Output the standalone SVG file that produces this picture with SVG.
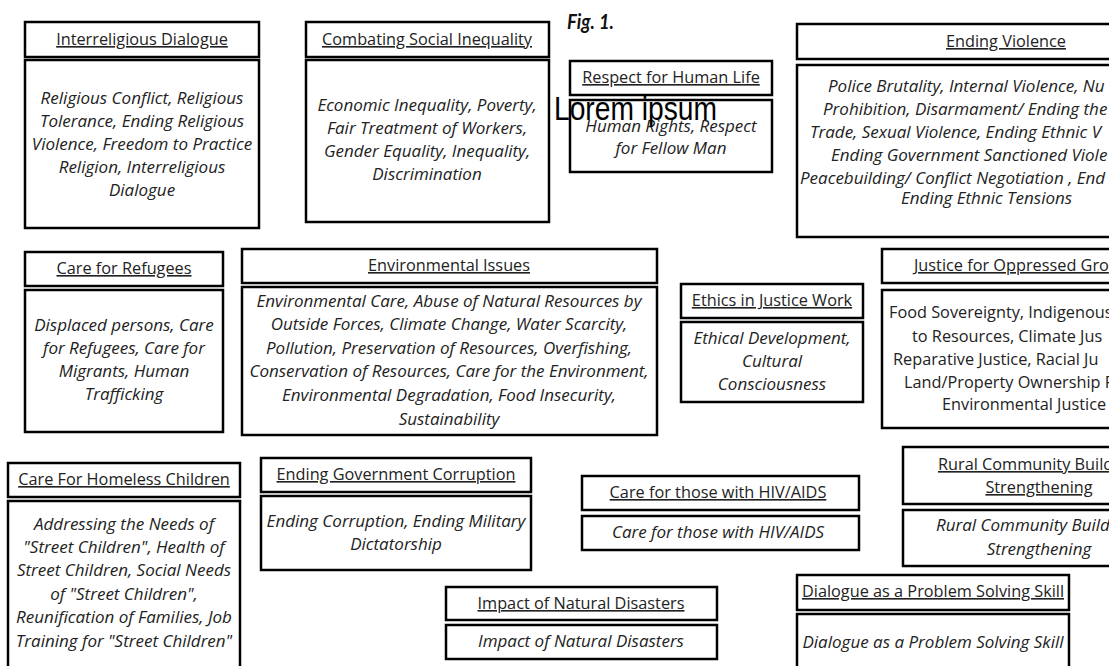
<svg xmlns="http://www.w3.org/2000/svg" width="1109" height="666" viewBox="0 0 1109 666">
<style>
rect.b{fill:#fff;stroke:#000;stroke-width:2.5}
text{font-family:"Open Sans","Noto Sans",sans-serif;fill:#222}
.t{font-size:16.3px;text-decoration:underline;text-anchor:middle}
.ts{font-size:16.3px;text-decoration:underline}
.i{font-size:17px;font-style:italic;text-anchor:middle}
.is{font-size:17px;font-style:italic}
.r{font-size:16.3px}
</style>
<rect width="1109" height="666" fill="#fff"/>
<g id="connectors"></g>

<g id="interreligious">
<rect class="b" x="25" y="22" width="234" height="35"/>
<text class="t" x="142" y="45">Interreligious Dialogue </text>
<rect class="b" x="25" y="60" width="234" height="168"/>
<text class="i" x="142" y="104">Religious Conflict, Religious</text>
<text class="i" x="142" y="127">Tolerance, Ending Religious</text>
<text class="i" x="142" y="150">Violence, Freedom to Practice</text>
<text class="i" x="142" y="173">Religion, Interreligious</text>
<text class="i" x="142" y="196">Dialogue</text>
</g>

<g id="combating">
<rect class="b" x="306" y="22" width="243" height="35"/>
<text class="t" x="427" y="45">Combating Social Inequality</text>
<rect class="b" x="306" y="60" width="243" height="162"/>
<text class="i" x="427" y="111">Economic Inequality, Poverty,</text>
<text class="i" x="427" y="134">Fair Treatment of Workers,</text>
<text class="i" x="427" y="157">Gender Equality, Inequality,</text>
<text class="i" x="427" y="180">Discrimination</text>
</g>

<g id="figlabel">
<text x="567" y="29" style="font-family:Lato,'Open Sans',sans-serif;font-size:21px;font-weight:bold;font-style:italic;fill:#111" textLength="47" lengthAdjust="spacingAndGlyphs">Fig. 1.</text>
</g>

<g id="respect">
<rect class="b" x="570" y="61" width="202" height="34"/>
<text class="t" x="671" y="83">Respect for Human Life</text>
<rect class="b" x="570" y="100" width="202" height="72"/>
<text class="i" x="671" y="132">Human Rights, Respect</text>
<text class="i" x="671" y="154">for Fellow Man</text>
</g>

<g id="lorem">
<text x="554" y="120" style="font-family:'Liberation Sans',sans-serif;font-size:33px;fill:#000" textLength="163" lengthAdjust="spacingAndGlyphs">Lorem ipsum</text>
</g>

<g id="ending-violence">
<rect class="b" x="797" y="24" width="330" height="35"/>
<text class="t" x="1006" y="47">Ending Violence</text>
<rect class="b" x="797" y="65" width="330" height="172"/>
<text class="is" x="828" y="92">Police Brutality, Internal Violence, Nu</text>
<text class="is" x="823" y="115">Prohibition, Disarmament/ Ending the</text>
<text class="is" x="810" y="138">Trade, Sexual Violence, Ending Ethnic V</text>
<text class="is" x="831" y="161">Ending Government Sanctioned Viole</text>
<text class="is" x="800" y="184">Peacebuilding/ Conflict Negotiation , End</text>
<text class="is" x="901" y="204">Ending Ethnic Tensions</text>
</g>

<g id="refugees">
<rect class="b" x="25" y="252" width="198" height="34"/>
<text class="t" x="124" y="274">Care for Refugees</text>
<rect class="b" x="25" y="290" width="198" height="142"/>
<text class="i" x="124" y="331">Displaced persons, Care</text>
<text class="i" x="124" y="354">for Refugees, Care for</text>
<text class="i" x="124" y="377">Migrants, Human</text>
<text class="i" x="124" y="400">Trafficking</text>
</g>

<g id="environmental">
<rect class="b" x="242" y="249" width="415" height="34"/>
<text class="t" x="449" y="271">Environmental Issues</text>
<rect class="b" x="242" y="287" width="415" height="148"/>
<text class="i" x="449" y="307">Environmental Care, Abuse of Natural Resources by</text>
<text class="i" x="449" y="330">Outside Forces, Climate Change, Water Scarcity,</text>
<text class="i" x="449" y="354">Pollution, Preservation of Resources, Overfishing,</text>
<text class="i" x="449" y="377">Conservation of Resources, Care for the Environment,</text>
<text class="i" x="449" y="401">Environmental Degradation, Food Insecurity,</text>
<text class="i" x="449" y="425">Sustainability</text>
</g>

<g id="ethics">
<rect class="b" x="681" y="284" width="182" height="34"/>
<text class="t" x="772" y="306">Ethics in Justice Work</text>
<rect class="b" x="681" y="322" width="182" height="80"/>
<text class="i" x="772" y="344">Ethical Development,</text>
<text class="i" x="772" y="367">Cultural</text>
<text class="i" x="772" y="390">Consciousness</text>
</g>

<g id="justice">
<rect class="b" x="882" y="249" width="260" height="34"/>
<text class="ts" x="914" y="271">Justice for Oppressed Gro</text>
<rect class="b" x="882" y="290" width="260" height="138"/>
<text class="r" x="889" y="318">Food Sovereignty, Indigenous</text>
<text class="r" x="912" y="342">to Resources, Climate Jus</text>
<text class="r" x="893" y="365">Reparative Justice, Racial Ju</text>
<text class="r" x="904" y="388">Land/Property Ownership R</text>
<text class="r" x="942" y="410">Environmental Justice</text>
</g>

<g id="homeless">
<rect class="b" x="8" y="463" width="232" height="34"/>
<text class="t" x="124" y="485">Care For Homeless Children</text>
<rect class="b" x="8" y="501" width="232" height="180"/>
<text class="i" x="124" y="530">Addressing the Needs of</text>
<text class="i" x="124" y="553">"Street Children", Health of</text>
<text class="i" x="124" y="576">Street Children, Social Needs</text>
<text class="i" x="124" y="600">of "Street Children",</text>
<text class="i" x="124" y="623">Reunification of Families, Job</text>
<text class="i" x="124" y="647">Training for "Street Children"</text>
</g>

<g id="corruption">
<rect class="b" x="261" y="458" width="270" height="34"/>
<text class="t" x="396" y="480">Ending Government Corruption</text>
<rect class="b" x="261" y="496" width="270" height="74"/>
<text class="i" x="396" y="527">Ending Corruption, Ending Military</text>
<text class="i" x="396" y="550">Dictatorship</text>
</g>

<g id="hiv">
<rect class="b" x="582" y="476" width="277" height="34"/>
<text class="t" x="718" y="498">Care for those with HIV/AIDS </text>
<rect class="b" x="582" y="516" width="277" height="34"/>
<text class="i" x="718" y="538">Care for those with HIV/AIDS</text>
</g>

<g id="rural">
<rect class="b" x="903" y="447" width="240" height="57"/>
<text class="ts" x="938" y="470">Rural Community Build</text>
<text class="t" x="1039" y="493">Strengthening</text>
<rect class="b" x="903" y="510" width="240" height="56"/>
<text class="is" x="936" y="531">Rural Community Build</text>
<text class="i" x="1039" y="555">Strengthening</text>
</g>

<g id="disasters">
<rect class="b" x="446" y="587" width="271" height="33"/>
<text class="t" x="581" y="609">Impact of Natural Disasters</text>
<rect class="b" x="446" y="625" width="271" height="34"/>
<text class="i" x="581" y="647">Impact of Natural Disasters</text>
</g>

<g id="dialogue-skill">
<rect class="b" x="797" y="575" width="272" height="35"/>
<text class="t" x="933" y="597">Dialogue as a Problem Solving Skill</text>
<rect class="b" x="797" y="614" width="272" height="70"/>
<text class="i" x="933" y="648">Dialogue as a Problem Solving Skill</text>
</g>
</svg>
